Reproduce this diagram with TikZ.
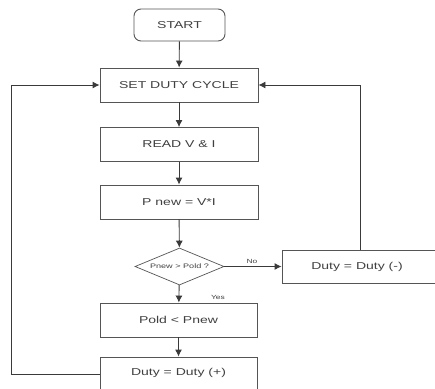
\documentclass[tikz,border=0pt]{standalone}
\usepackage{fontspec}
\setmainfont{Liberation Sans}[FakeStretch=1.4]
\usetikzlibrary{shapes.geometric,arrows.meta}
\definecolor{txt}{HTML}{404040}
\definecolor{ln}{HTML}{3A3A3A}
\definecolor{bx}{HTML}{555555}
\tikzset{
  box/.style={draw=bx, line width=0.9pt, rectangle, minimum width=158pt, minimum height=34pt, inner sep=0pt, text=txt, font=\fontsize{10}{12}\selectfont},
  startbox/.style={draw=bx, line width=0.9pt, rectangle, rounded corners=7pt, minimum width=91pt, minimum height=32pt, inner sep=0pt, text=txt, font=\fontsize{10}{12}\selectfont},
  decision/.style={draw=bx, line width=0.7pt, diamond, aspect=2.4, minimum width=89pt, minimum height=37pt, inner sep=0pt, text=txt, font=\fontsize{6.5}{8}\selectfont},
  flow/.style={draw=ln, line width=0.9pt, -{Latex[length=7pt,width=7pt]}},
  lab/.style={text=txt, font=\fontsize{6}{7}\selectfont, inner sep=0pt}
}
\begin{document}
\begin{tikzpicture}[x=1pt,y=1pt]
\useasboundingbox (0,0) rectangle (435,-388);
\fill[white] (0,0) rectangle (435,-388);
\begin{scope}
\clip (0,0) rectangle (435,-388);
\node[startbox] (start) at (179.5,-25) {START};
\node[box] (set) at (179,-85) {SET DUTY CYCLE};
\node[box] (read) at (179,-144.5) {READ V \& I};
\node[box] (pnew) at (179,-202) {P new = V*I};
\node[decision] (dec) at (179.5,-266.5) {Pnew > Pold ?};
\node[box, minimum width=176pt, minimum height=33pt] (dminus) at (370,-266.5) {\hspace*{-26pt}Duty = Duty (-)};
\node[box, minimum width=157pt, minimum height=34pt] (pold) at (178.5,-320) {Pold < Pnew};
\node[box, minimum width=157pt, minimum height=34pt] (dplus) at (178.5,-374) {\raisebox{4pt}{Duty = Duty (+)}};
\node[lab] (yes) at (218,-297) {Yes};
\node[lab] (no) at (252,-261) {No};
\coordinate (rtop) at (360,-85);
\coordinate (ltop) at (11,-85);
\coordinate (lbot) at (11,-374);

\draw[flow] (start) -- (set);
\draw[flow] (set) -- (read);
\draw[flow] (read) -- (pnew);
\draw[flow] (pnew) -- (dec);
\draw[flow] (dec) -- (pold);
\draw[flow] (pold) -- (dplus);
\draw[flow] (dec.east) -- (dminus.west);
\draw[flow] (dminus.north -| rtop) -- (rtop) -- (set.east);
\draw[flow] (dplus.west) -- (lbot) -- (ltop) -- (set.west);
\end{scope}
\end{tikzpicture}
\end{document}
